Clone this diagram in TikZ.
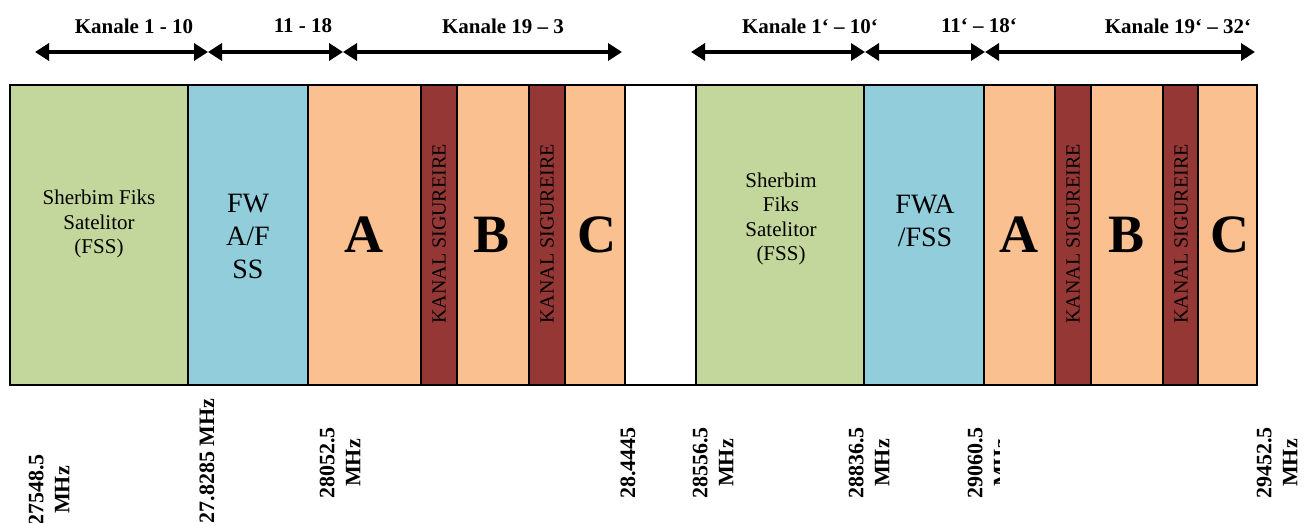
\documentclass[tikz,border=0pt]{standalone}
\usepackage{fontspec}
\setmainfont{Liberation Serif}
\usetikzlibrary{arrows.meta}
\definecolor{fssgreen}{HTML}{C3D69B}
\definecolor{fwablue}{HTML}{92CDDC}
\definecolor{chorange}{HTML}{FAC090}
\definecolor{guardred}{HTML}{953735}
\begin{document}
\begin{tikzpicture}[x=0.5pt,y=-0.5pt,
  band/.style={draw=black,line width=0.9pt},
  smalltxt/.style={font=\fontsize{10.5}{12.25}\selectfont,align=center,inner sep=0pt},
  fwatxt/.style={font=\fontsize{14}{16.5}\selectfont,align=center,inner sep=0pt},
  bigletter/.style={font=\fontsize{27}{30}\selectfont\bfseries,inner sep=0pt},
  guardtxt/.style={font=\fontsize{10}{12}\selectfont,rotate=90,inner sep=0pt},
  headtxt/.style={font=\fontsize{10.5}{12}\selectfont\bfseries,inner sep=0pt},
  freqtxt/.style={font=\fontsize{11}{13}\selectfont\bfseries,rotate=90,align=center,inner sep=0pt},
  dblarrow/.style={line width=1.7pt,{Triangle[length=7pt,width=8.5pt]}-{Triangle[length=7pt,width=8.5pt]}}]
\useasboundingbox (0,0) rectangle (1305,523);
% bands, left half
\path[band,fill=fssgreen] (10,85) rectangle (188,385);
\path[band,fill=fwablue] (188,85) rectangle (308,385);
\path[band,fill=chorange] (308,85) rectangle (421,385);
\path[band,fill=guardred] (421,85) rectangle (457,385);
\path[band,fill=chorange] (457,85) rectangle (529,385);
\path[band,fill=guardred] (529,85) rectangle (565,385);
\path[band,fill=chorange] (565,85) rectangle (625,385);
\path[band,fill=white] (625,85) rectangle (696,385);
% bands, right half
\path[band,fill=fssgreen] (696,85) rectangle (864,385);
\path[band,fill=fwablue] (864,85) rectangle (984,385);
\path[band,fill=chorange] (984,85) rectangle (1055,385);
\path[band,fill=guardred] (1055,85) rectangle (1091,385);
\path[band,fill=chorange] (1091,85) rectangle (1163,385);
\path[band,fill=guardred] (1163,85) rectangle (1198,385);
\path[band,fill=chorange] (1198,85) rectangle (1257,385);
\draw[line width=1.2pt] (10,85) rectangle (1257,385);
% band texts
\node[smalltxt] (fssL) at (99,224) {Sherbim Fiks\\Satelitor\\(FSS)};
\node[fwatxt] (fwaL) at (248,236) {FW\\A/F\\SS};
\node[bigletter] (aL) at (364,235) {A};
\node[guardtxt] (g1) at (439,234) {KANAL SIGUREIRE};
\node[bigletter] (bL) at (492,235) {B};
\node[guardtxt] (g2) at (547,234) {KANAL SIGUREIRE};
\node[bigletter] (cL) at (597,235) {C};
\node[smalltxt] (fssR) at (781,219) {Sherbim\\Fiks\\Satelitor\\(FSS)};
\node[fwatxt] (fwaR) at (925,221) {FWA\\/FSS};
\node[bigletter] (aR) at (1019,235) {A};
\node[guardtxt] (g3) at (1073,234) {KANAL SIGUREIRE};
\node[bigletter] (bR) at (1126,235) {B};
\node[guardtxt] (g4) at (1181,234) {KANAL SIGUREIRE};
\node[bigletter] (cR) at (1230,235) {C};
% headers
\node[headtxt] (h1) at (134,26) {Kanale 1 - 10};
\node[headtxt] (h2) at (303,26) {11 - 18};
\node[headtxt] (h3) at (503,26) {Kanale 19 – 3};
\node[headtxt] (h4) at (810,26) {Kanale 1‘ – 10‘};
\node[headtxt] (h5) at (979,26) {11‘ – 18‘};
\node[headtxt] (h6) at (1178,26) {Kanale 19‘ – 32‘};
% arrows
\coordinate (p1) at (35,52);
\coordinate (p2) at (208,52);
\coordinate (p3) at (343,52);
\coordinate (p4) at (622,52);
\coordinate (q1) at (691,52);
\coordinate (q2) at (865,52);
\coordinate (q3) at (985,52);
\coordinate (q4) at (1255,52);
\draw[dblarrow] (p1) -- (p2);
\draw[dblarrow] (p2) -- (p3);
\draw[dblarrow] (p3) -- (p4);
\draw[dblarrow] (q1) -- (q2);
\draw[dblarrow] (q2) -- (q3);
\draw[dblarrow] (q3) -- (q4);
% frequency labels
\node[freqtxt] (f1) at (49,490) {27548.5\\MHz};
\node[freqtxt] (f2) at (207,461) {27.8285 MHz};
\node[freqtxt] (f3) at (340,463) {28052.5\\MHz};
\node[freqtxt] (f4) at (628,463) {28.4445};
\node[freqtxt] (f5) at (713,463) {28556.5\\MHz};
\node[freqtxt] (f6) at (869,463) {28836.5\\MHz};
\begin{scope}
\clip (930,395) rectangle (999,523);
\node[freqtxt] (f7) at (988,463) {29060.5\\MHz};
\end{scope}
\node[freqtxt] (f8) at (1277,463) {29452.5\\MHz};
\end{tikzpicture}
\end{document}
